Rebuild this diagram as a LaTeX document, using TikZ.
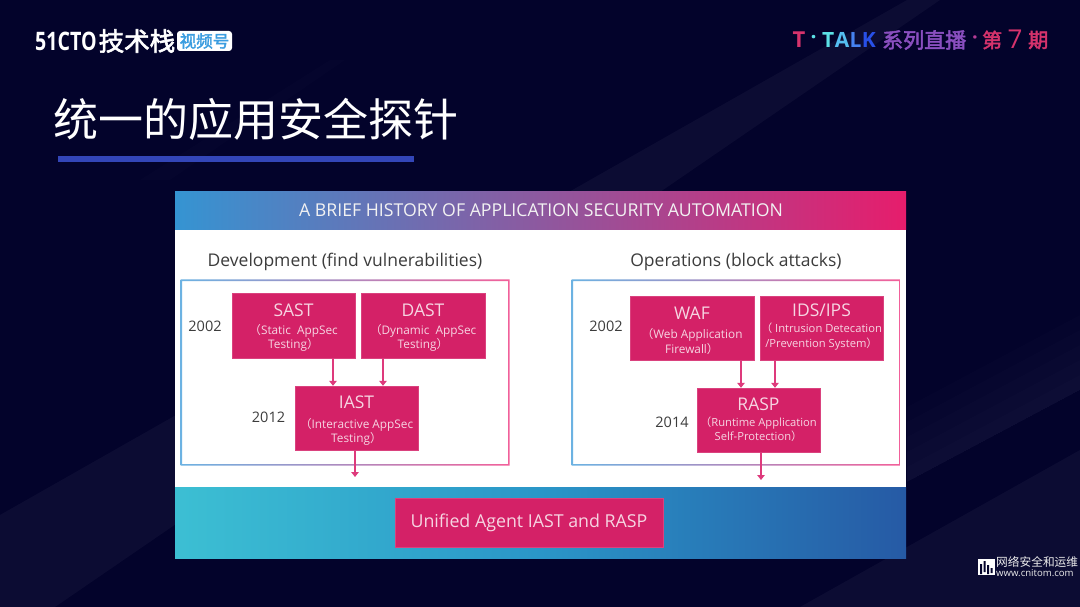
\documentclass[tikz,border=0pt]{standalone}
\usepackage{fontspec}
\setmainfont{Open Sans}
\newfontfamily\cjk{Noto Sans CJK SC}
\newfontfamily\cjkbold[FakeBold=2.5]{Noto Sans CJK SC}
\usetikzlibrary{arrows.meta}
\definecolor{navy}{HTML}{03032B}
\definecolor{probe}{HTML}{D42167}
\definecolor{probetext}{HTML}{F6D5E2}
\definecolor{inktext}{HTML}{3C3C3C}
\definecolor{framea}{HTML}{6CB2E2}
\definecolor{frameb}{HTML}{F2609A}
\definecolor{rulecol}{HTML}{3346B8}
\definecolor{arrowcol}{HTML}{DE3A7C}
\definecolor{talkpink}{HTML}{D6336C}
\definecolor{talkpurple}{HTML}{8A4FC0}
\newcommand{\lp}{{\cjk （}}
\newcommand{\rp}{{\cjk ）}}
\newcommand{\probetitle}[2][3pt]{{\fontsize{17.5}{20}\selectfont #2}\\[#1]}
\tikzset{
  x=1pt, y=-1pt,
  probebox/.style={fill=probe, draw=probe!85!white, line width=0.4pt, inner sep=0pt, text=probetext, align=center, font=\fontsize{11.8}{14.5}\selectfont},
  tightbox/.style={probebox, font=\fontsize{11.2}{14.5}\selectfont},
  year/.style={text=inktext, font=\fontsize{14.5}{16}\selectfont, inner sep=0pt},
  heading/.style={text=inktext, font=\fontsize{17.5}{20}\selectfont, inner sep=0pt},
  flow/.style={-{Triangle[width=7.5pt,length=5pt]}, draw=arrowcol, line width=1.3pt},
  ringframe/.style={even odd rule, left color=framea, right color=frameb},
  streak/.style={fill=white, opacity=0.04},
  softstreak/.style={fill=white, opacity=0.012},
  talk/.style={inner sep=0pt, font=\cjkbold\fontsize{20}{22}\selectfont},
  talklatin/.style={inner sep=0pt, anchor=west, font=\bfseries\fontsize{21}{24}\selectfont}
}
\begin{document}
\begin{tikzpicture}
  \useasboundingbox (0,0) rectangle (1080,607);
  \fill[navy] (0,0) rectangle (1080,607);
  \fill[streak] (0,515) -- (907,0) -- (940,0) -- (55,607) -- (0,607) -- cycle;
  \fill[streak] (1080,450) -- (1080,607) -- (800,607) -- cycle;
  \foreach \d in {0,15,...,75}
    \fill[softstreak] (907,482) -- (1080,390) -- (1080,390-\d) -- (907,482-\d) -- cycle;
  \fill[softstreak] (140,180) -- (330,60) -- (345,60) -- (170,180) -- cycle;

  \node[text=white, inner sep=0pt, anchor=west, font=\bfseries\fontsize{19.6}{24}\selectfont] (brand) at (35,41) {\scalebox{1}[1.3]{51CTO}};
  \node[text=white, inner sep=0pt, anchor=west, font=\cjkbold\fontsize{25.5}{27}\selectfont] (brandcn) at (98.5,41) {技术栈};
  \node[fill=white, inner sep=0pt, minimum width=55pt, minimum height=20pt, rounded corners=3pt, text={rgb,255:red,59;green,157;blue,224}, font=\cjkbold\fontsize{16.5}{18}\selectfont] (channel) at (204.5,41) {视频号};

  \node[talk, text=talkpink, font=\bfseries\fontsize{22}{24}\selectfont] (tmark) at (799,40) {T};
  \node[talk, text={rgb,255:red,92;green,225;blue,230}, font=\bfseries\fontsize{21}{24}\selectfont] (tdot) at (813.5,40) {·};
  \node[talklatin, text={rgb,255:red,92;green,225;blue,230}] (talka) at (822,40) {T};
  \node[talklatin, text={rgb,255:red,85;green,190;blue,240}] (talkb) at (talka.east) {A};
  \node[talklatin, text={rgb,255:red,70;green,130;blue,240}] (talkc) at (talkb.east) {L};
  \node[talklatin, text={rgb,255:red,40;green,80;blue,232}] (talkd) at (talkc.east) {K};
  \node[talk, text=talkpurple, anchor=west, font=\cjkbold\fontsize{21}{23}\selectfont] (series) at (882,40) {系列直播};
  \node[talk, text={rgb,255:red,180;green,60;blue,150}, font=\bfseries\fontsize{20}{22}\selectfont] (sdot) at (975,40) {·};
  \node[talk, text=talkpink, anchor=west] (issuea) at (982,40) {第};
  \node[talk, text=talkpink, font=\fontsize{26}{28}\selectfont] (issueb) at (1015,39) {7};
  \node[talk, text=talkpink, anchor=west] (issuec) at (1028,40) {期};

  \node[text=white, inner sep=0pt, anchor=west, font=\cjk\fontsize{45}{47}\selectfont] (title) at (53,119) {统一的应用安全探针};
  \fill[rulecol] (57.5,156) rectangle (414,162);

  \fill[white] (175,192) rectangle (906,487);
  \shade[left color={rgb,255:red,53;green,148;blue,210}, right color={rgb,255:red,230;green,29;blue,108}] (175,192) rectangle (906,230);
  \shade[left color={rgb,255:red,60;green,191;blue,211}, right color={rgb,255:red,38;green,90;blue,165}, middle color={rgb,255:red,42;green,150;blue,200}] (175,487) rectangle (906,558);
  \node[text=white!90!gray, inner sep=0pt, font=\fontsize{17.7}{19}\selectfont] (banner) at (541,210) {A BRIEF HISTORY OF APPLICATION SECURITY AUTOMATION};

  \node[heading] (devhead) at (345,261.5) {Development (find vulnerabilities)};
  \node[heading] (opshead) at (736,261.5) {Operations (block attacks)};

  \shade[ringframe] (180.5,279.3) rectangle (509.5,465.7) (182,281) rectangle (508,464);
  \shade[ringframe] (571.5,279.3) rectangle (900.5,465.7) (573,281) rectangle (899,464);

  \node[year] (ya) at (205,326) {2002};
  \node[year] (yb) at (268.5,417) {2012};
  \node[year] (yc) at (606,326) {2002};
  \node[year] (yd) at (672,422) {2014};

  \node[probebox, minimum width=122.6pt, minimum height=65pt] (sast) at (293.5,325.5) {\probetitle[3pt]{\rule{0pt}{17pt}SAST}\lp Static\ \ AppSec\\Testing\rp};
  \node[probebox, minimum width=123.6pt, minimum height=65pt] (dast) at (423,325.5) {\probetitle[3pt]{\rule{0pt}{17pt}DAST}\lp Dynamic\ \ AppSec\\Testing\rp};
  \node[probebox, minimum width=122.6pt, minimum height=64pt] (iast) at (356.5,418) {\probetitle[5pt]{\rule{0pt}{18pt}IAST}\lp Interactive AppSec\\Testing\rp};
  \node[probebox, minimum width=123.6pt, minimum height=64pt] (waf) at (692,328) {\probetitle[5pt]{\rule{0pt}{18pt}WAF}\lp Web Application\\Firewall\rp};
  \node[tightbox, minimum width=122.6pt, minimum height=64pt] (idsips) at (821.5,328) {\probetitle[2pt]{IDS/IPS}\lp\ Intrusion Detecation\\/Prevention System\rp\rule[-5pt]{0pt}{5pt}};
  \node[tightbox, minimum width=122.6pt, minimum height=64pt] (rasp) at (758.5,420) {\probetitle[1pt]{RASP}\lp Runtime\ Application\\Self-Protection\rp};
  \node[probebox, minimum width=268pt, minimum height=49pt, font=\fontsize{17.8}{20}\selectfont] (unified) at (529,522.5) {Unified Agent IAST and RASP};

  \coordinate (iastend) at (355,477);
  \coordinate (raspend) at (761,480);
  \draw[flow] ([xshift=39.5pt]sast.south) -- ([xshift=-23.5pt]iast.north);
  \draw[flow] ([xshift=-40pt]dast.south) -- ([xshift=26.5pt]iast.north);
  \draw[flow] ([xshift=-1.5pt]iast.south) -- (iastend);
  \draw[flow] ([xshift=49pt]waf.south) -- ([xshift=-17.5pt]rasp.north);
  \draw[flow] ([xshift=-46.5pt]idsips.south) -- ([xshift=16.5pt]rasp.north);
  \draw[flow] ([xshift=2.5pt]rasp.south) -- (raspend);

  \node[fill=white, inner sep=0pt, minimum width=17pt, minimum height=16pt] (marklogo) at (986,567) {};
  \fill[navy] (980,564) rectangle (982,574) (983.5,561) rectangle (985.5,572) (987,565) rectangle (989,574) (990.5,568) rectangle (992.5,573);
  \node[text=white!85!gray, inner sep=0pt, anchor=west, font=\cjk\fontsize{11.7}{13}\selectfont] (markcn) at (996,562) {网络安全和运维};
  \node[text=white!85!gray, inner sep=0pt, anchor=west, font=\fontsize{9.6}{10}\selectfont] (markurl) at (996,573) {www.cnitom.com};
\end{tikzpicture}
\end{document}
